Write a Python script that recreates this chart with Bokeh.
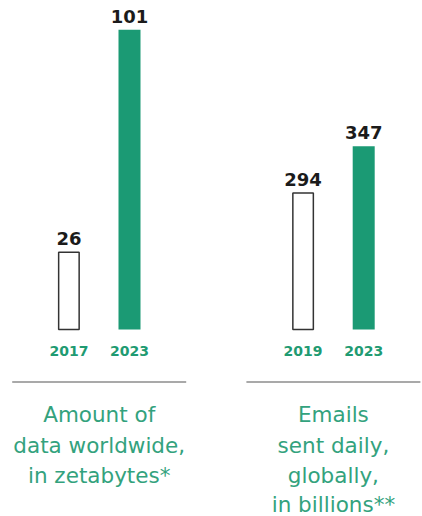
from bokeh.plotting import figure
from bokeh.models import Range1d, Label, BoxAnnotation
from bokeh.core.properties import value
from bokeh.embed import file_html
from bokeh.resources import INLINE

# ---- data ----
data_years = ["2017", "2023"]
data_values = [26, 101]          # zettabytes
email_years = ["2019", "2023"]
email_values = [294, 347]        # billions per day
data_title = ["Amount of", "data worldwide,", "in zetabytes*"]
email_title = ["Emails", "sent daily,", "globally,", "in billions**"]

# ---- style / layout ----
W, H = 422, 516
GREEN = "#1b9a74"
GREEN_TXT = "#1f9b72"
GREEN_LIGHT = "#33a27d"
DARK = "#1b1b1b"
OUTLINE = "#333333"
panel_centers = [98.7, 332.9]
half_gap = 30.3
bar_w = 22
right_base = 139  # visual baseline of the right panel

p = figure(width=W, height=H, output_backend="svg", toolbar_location=None,
           x_range=Range1d(0, W), y_range=Range1d(-63.03, 110.88),
           x_axis_type=None, y_axis_type=None, min_border=0)
p.extra_y_ranges = {"emails": Range1d(-73.26, 512.44)}
p.grid.visible = False
p.outline_line_color = None
p.background_fill_color = "white"
p.border_fill_color = "white"

def draw_panel(cx, years, vals, base, yname):
    xs = [cx - half_gap, cx + half_gap]
    kw = {} if yname is None else {"y_range_name": yname}
    # older year: outline bar
    p.vbar(x=[xs[0]], top=[vals[0]], bottom=base, width=bar_w - 1.5,
           fill_color="white", line_color=OUTLINE, line_width=1.5, **kw)
    # newer year: filled bar
    p.vbar(x=[xs[1]], top=[vals[1]], bottom=base, width=bar_w,
           fill_color=GREEN, line_color=None, **kw)
    p.text(x=xs, y=vals, text=[str(v) for v in vals], y_offset=-13.5,
           text_align="center", text_baseline="middle",
           text_font=value("DejaVu Sans"), text_font_style="bold",
           text_font_size="18px", text_color=DARK, **kw)
    p.text(x=xs, y=[base, base], text=years, y_offset=21.5,
           text_align="center", text_baseline="middle",
           text_font=value("DejaVu Sans"), text_font_style="bold",
           text_font_size="14px", text_color=GREEN_TXT, **kw)

draw_panel(panel_centers[0], data_years, data_values, 0, None)
draw_panel(panel_centers[1], email_years, email_values, right_base, "emails")

# separator lines
for cx in panel_centers:
    p.add_layout(BoxAnnotation(left=cx - 87, right=cx + 87, bottom=134, top=135,
                               bottom_units="screen", top_units="screen",
                               fill_color="#555555", fill_alpha=1, line_color=None))

# captions
line_ys = [102, 71.5, 41, 12]
for cx, lines in zip(panel_centers, [data_title, email_title]):
    for i, t in enumerate(lines):
        p.add_layout(Label(x=cx, y=line_ys[i], y_units="screen", text=t,
                           text_align="center", text_baseline="middle",
                           text_font="DejaVu Sans", text_font_size="21.5px",
                           text_color=GREEN_LIGHT))

open("out.html", "w").write(file_html(p, INLINE))
